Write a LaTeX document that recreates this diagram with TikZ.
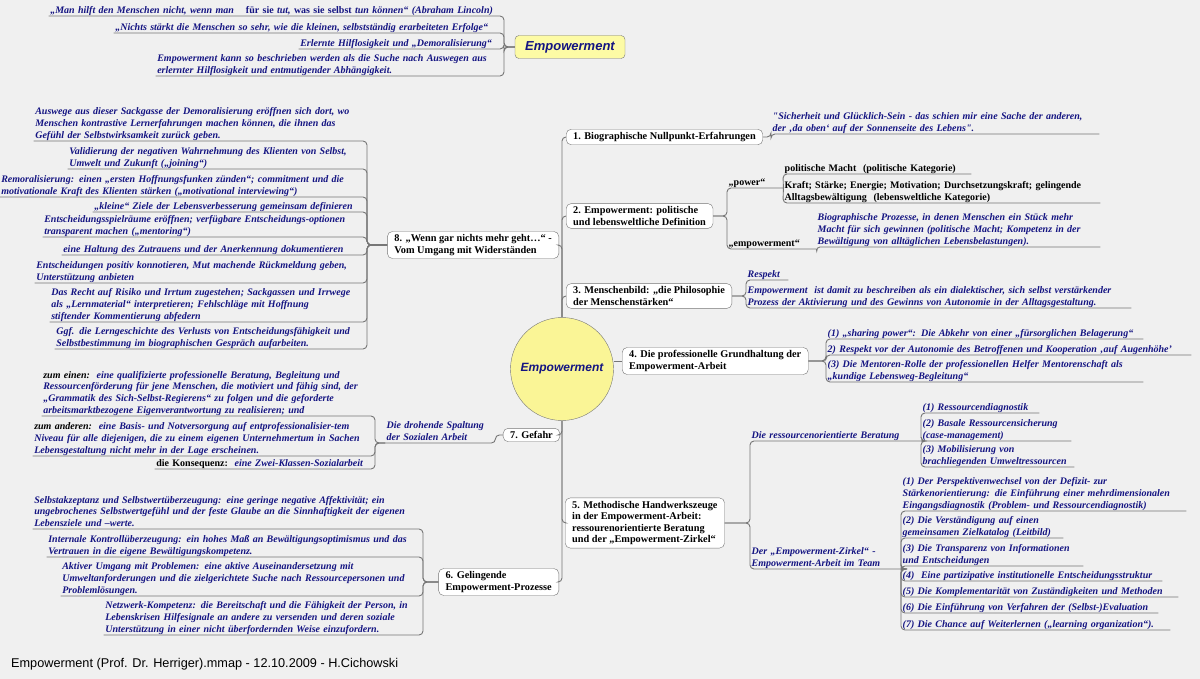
\documentclass[tikz,border=0pt]{standalone}
\usepackage{fontspec}
\setmainfont{Liberation Serif}[Ligatures=TeXOff]
\setsansfont{Liberation Sans}
\usepackage{tikz}
\usetikzlibrary{positioning}
\definecolor{mapnavy}{RGB}{20,20,130}
\definecolor{mapgray}{RGB}{118,118,118}
\definecolor{mapback}{RGB}{240,240,240}
\definecolor{hubyellow}{RGB}{250,245,150}
\definecolor{titleyellow}{RGB}{253,251,165}
\newcommand{\nohyph}{\hyphenpenalty=10000\relax\exhyphenpenalty=10000\relax}

\tikzset{
  topic/.style={draw=mapgray, fill=white, rounded corners=5pt, align=left, inner xsep=7pt, inner ysep=3pt, font=\bfseries\fontsize{10.3}{11.6}\selectfont},
  leaf/.style={align=left, inner xsep=1.5pt, inner ysep=0.5pt, text=mapnavy, font=\bfseries\itshape\fontsize{10}{11.6}\selectfont\nohyph, execute at end node={\rule[-2pt]{0pt}{2pt}}},
  plainleaf/.style={leaf, text=black, font=\bfseries\fontsize{10}{11.6}\selectfont\nohyph},
  branch/.style={draw=mapgray, line width=0.9pt, rounded corners=4pt},
}

\begin{document}
\begin{tikzpicture}[x=1pt, y=-1pt]
\useasboundingbox (0,0) rectangle (1200,679);
\fill[mapback] (0,0) rectangle (1200,679);

% central topic and floating topic
\node[circle, draw=mapgray, fill=hubyellow, minimum size=103pt, inner sep=0pt, text=mapnavy, font=\sffamily\bfseries\itshape\fontsize{12}{14}\selectfont] (hub) at (562,369) {Empowerment};
\node[draw=mapgray, fill=titleyellow, rounded corners=4pt, minimum width=110pt, minimum height=23pt, text=mapnavy, font=\sffamily\bfseries\itshape\fontsize{13}{15}\selectfont] (title) at (570,47) {Empowerment};

% main topics
\node[topic, anchor=west] (t1) at (566,137) {1. Biographische Nullpunkt-Erfahrungen};
\node[topic, anchor=west] (t2) at (566,216) {2. Empowerment: politische\\und lebensweltliche Definition};
\node[topic, anchor=west] (t3) at (566,296) {3. Menschenbild: „die Philosophie\\der Menschenstärken“};
\node[topic, anchor=west] (t4) at (622,361) {4. Die professionelle Grundhaltung der\\Empowerment-Arbeit};
\node[topic, anchor=west] (t5) at (565,523) {5. Methodische Handwerkszeuge\\in der Empowerment-Arbeit:\\ressourenorientierte Beratung\\und der „Empowerment-Zirkel“};
\node[topic, anchor=east] (t6) at (559,582) {6. Gelingende\\Empowerment-Prozesse};
\node[topic, anchor=east] (t7) at (560,435) {7. Gefahr};
\node[topic, anchor=east] (t8) at (559,245) {8. „Wenn gar nichts mehr geht…“ -\\Vom Umgang mit Widerständen};

% floating topic notes
\node[leaf, anchor=south east, text width=452pt] (c1) at (504,16) {„Man hilft den Menschen nicht, wenn man\hspace{1.2em}{\upshape für sie} tut, {\upshape was sie selbst} tun können“ (Abraham Lincoln)};
\node[leaf, anchor=south east, text width=387pt] (c2) at (504,33) {„Nichts stärkt die Menschen so sehr, wie die kleinen, selbstständig erarbeiteten Erfolge“};
\node[leaf, anchor=south east, text width=202pt] (c3) at (504,49) {Erlernte Hilflosigkeit und „Demoralisierung“};
\node[leaf, anchor=south east, text width=345pt] (c4) at (504,76) {Empowerment kann so beschrieben werden als die Suche nach Auswegen aus\\erlernter Hilflosigkeit und entmutigender Abhängigkeit.};

% 1.
\node[leaf, anchor=south west, text width=325pt] (q1) at (771,134) {"Sicherheit und Glücklich-Sein - das schien mir eine Sache der anderen,\\der ‚da oben‘ auf der Sonnenseite des Lebens".};

% 2.
\node[plainleaf, anchor=south west, text width=53pt] (p1) at (727,188) {„power“};
\node[plainleaf, anchor=south west, text width=86pt] (p2) at (727,249) {„empowerment“};
\node[plainleaf, anchor=south west, text width=185pt] (m1) at (783,174) {politische Macht\ \ (politische Kategorie)};
\node[plainleaf, anchor=south west, text width=314pt] (m2) at (783,203) {Kraft; Stärke; Energie; Motivation; Durchsetzungskraft; gelingende\\Alltagsbewältigung\ \ (lebensweltliche Kategorie)};
\node[leaf, anchor=south west, text width=281pt] (e1) at (816,247) {Biographische Prozesse, in denen Menschen ein Stück mehr\\Macht für sich gewinnen (politische Macht; Kompetenz in der\\Bewältigung von alltäglichen Lebensbelastungen).};

% 3.
\node[leaf, anchor=south west, text width=39pt] (r1) at (746,280) {Respekt};
\node[leaf, anchor=south west, text width=382pt] (r2) at (746,308) {Empowerment\ \ ist damit zu beschreiben als ein dialektischer, sich selbst verstärkender\\Prozess der Aktivierung und des Gewinns von Autonomie in der Alltagsgestaltung.};

% 4.
\node[leaf, anchor=south west, text width=314pt] (s1) at (826,339) {(1) „sharing power“: Die Abkehr von einer „fürsorglichen Belagerung“};
\node[leaf, anchor=south west, text width=362pt] (s2) at (826,355) {2) Respekt vor der Autonomie des Betroffenen und Kooperation ‚auf Augenhöhe’};
\node[leaf, anchor=south west, text width=314pt] (s3) at (826,382) {(3) Die Mentoren-Rolle der professionellen Helfer Mentorenschaft als\\„kundige Lebensweg-Begleitung“};

% 5.
\node[leaf, anchor=south west, text width=168pt] (d1) at (750,441) {Die ressourcenorientierte Beratung};
\node[leaf, anchor=south west, text width=115pt] (f1) at (921,413) {(1) Ressourcendiagnostik};
\node[leaf, anchor=south west, text width=147pt] (f2) at (921,441) {(2) Basale Ressourcensicherung\\(case-management)};
\node[leaf, anchor=south west, text width=150pt] (f3) at (921,467) {(3) Mobilisierung von\\brachliegenden Umweltressourcen};
\node[leaf, anchor=south west, text width=148pt] (d2) at (750,569) {Der „Empowerment-Zirkel“ -\\Empowerment-Arbeit im Team};
\node[leaf, anchor=south west, text width=282pt] (g1) at (901,511) {(1) Der Perspektivenwechsel von der Defizit- zur\\Stärkenorientierung: die Einführung einer mehrdimensionalen\\Eingangsdiagnostik (Problem- und Ressourcendiagnostik)};
\node[leaf, anchor=south west, text width=159pt] (g2) at (901,538) {(2) Die Verständigung auf einen\\gemeinsamen Zielkatalog (Leitbild)};
\node[leaf, anchor=south west, text width=179pt] (g3) at (901,566) {(3) Die Transparenz von Informationen\\und Entscheidungen};
\node[leaf, anchor=south west, text width=258pt] (g4) at (901,581) {(4)\ \ Eine partizipative institutionelle Entscheidungsstruktur};
\node[leaf, anchor=south west, text width=274pt] (g5) at (901,597) {(5) Die Komplementarität von Zuständigkeiten und Methoden};
\node[leaf, anchor=south west, text width=254pt] (g6) at (901,613) {(6) Die Einführung von Verfahren der (Selbst-)Evaluation};
\node[leaf, anchor=south west, text width=266pt] (g7) at (901,630) {(7) Die Chance auf Weiterlernen („learning organization“).};

% 6.
\node[leaf, anchor=south east, text width=387pt] (b1) at (423,529) {Selbstakzeptanz und Selbstwertüberzeugung: eine geringe negative Affektivität; ein\\ungebrochenes Selbstwertgefühl und der feste Glaube an die Sinnhaftigkeit der eigenen\\Lebensziele und –werte.};
\node[leaf, anchor=south east, text width=373pt] (b2) at (423,557) {Internale Kontrollüberzeugung: ein hohes Maß an Bewältigungsoptimismus und das\\Vertrauen in die eigene Bewältigungskompetenz.};
\node[leaf, anchor=south east, text width=359pt] (b3) at (423,596) {Aktiver Umgang mit Problemen: eine aktive Auseinandersetzung mit\\Umweltanforderungen und die zielgerichtete Suche nach Ressourcepersonen und\\Problemlösungen.};
\node[leaf, anchor=south east, text width=316pt] (b4) at (423,635) {Netzwerk-Kompetenz: die Bereitschaft und die Fähigkeit der Person, in\\Lebenskrisen Hilfesignale an andere zu versenden und deren soziale\\Unterstützung in einer nicht überfordernden Weise einzufordern.};

% 7.
\node[leaf, anchor=south west, text width=107pt] (dd) at (385,443) {Die drohende Spaltung\\der Sozialen Arbeit};
\node[leaf, anchor=south east, text width=330pt] (z1) at (375,416) {{\color{black}zum einen:}\ \ eine qualifizierte professionelle Beratung, Begleitung und\\Ressourcenförderung für jene Menschen, die motiviert und fähig sind, der\\„Grammatik des Sich-Selbst-Regierens“ zu folgen und die geforderte\\arbeitsmarktbezogene Eigenverantwortung zu realisieren; und};
\node[leaf, anchor=south east, text width=339pt] (z2) at (375,456) {{\color{black}zum anderen:}\ \ eine Basis- und Notversorgung auf entprofessionalisier-tem\\Niveau für alle diejenigen, die zu einem eigenen Unternehmertum in Sachen\\Lebensgestaltung nicht mehr in der Lage erscheinen.};
\node[leaf, anchor=south east, text width=217pt] (z3) at (375,469) {{\color{black}\upshape die Konsequenz:}\ \ eine Zwei-Klassen-Sozialarbeit};

% 8.
\node[leaf, anchor=south east, text width=330pt] (a1) at (367,141) {Auswege aus dieser Sackgasse der Demoralisierung eröffnen sich dort, wo\\Menschen kontrastive Lernerfahrungen machen können, die ihnen das\\Gefühl der Selbstwirksamkeit zurück geben.};
\node[leaf, anchor=south east, text width=296pt] (a2) at (367,169) {Validierung der negativen Wahrnehmung des Klienten von Selbst,\\Umwelt und Zukunft („joining“)};
\node[leaf, anchor=south east, text width=364pt] (a3) at (367,197) {Remoralisierung: einen „ersten Hoffnungsfunken zünden“; commitment und die\\motivationale Kraft des Klienten stärken („motivational interviewing“)};
\node[leaf, anchor=south east, text width=271pt] (a4) at (367,212) {„kleine“ Ziele der Lebensverbesserung gemeinsam definieren};
\node[leaf, anchor=south east, text width=321pt] (a5) at (367,237) {Entscheidungsspielräume eröffnen; verfügbare Entscheidungs-optionen\\transparent machen („mentoring“)};
\node[leaf, anchor=south east, text width=302pt] (a6) at (367,255) {eine Haltung des Zutrauens und der Anerkennung dokumentieren};
\node[leaf, anchor=south east, text width=329pt] (a7) at (367,283) {Entscheidungen positiv konnotieren, Mut machende Rückmeldung geben,\\Unterstützung anbieten};
\node[leaf, anchor=south east, text width=314pt] (a8) at (367,322) {Das Recht auf Risiko und Irrtum zugestehen; Sackgassen und Irrwege\\als „Lernmaterial“ interpretieren; Fehlschläge mit Hoffnung\\stiftender Kommentierung abfedern};
\node[leaf, anchor=south east, text width=309pt] (a9) at (367,349) {Ggf. die Lerngeschichte des Verlusts von Entscheidungsfähigkeit und\\Selbstbestimmung im biographischen Gespräch aufarbeiten.};

% footer
\node[anchor=base west, inner sep=0pt, font=\sffamily\fontsize{12.7}{14}\selectfont] (footer) at (11,667) {Empowerment (Prof. Dr. Herriger).mmap - 12.10.2009 - H.Cichowski};

% connectors
\foreach \t in {t1,t2,t3} \draw[branch] (hub.north) |- (\t.west);
\draw[branch] (hub.north) |- (t8.east);
\draw[branch] (hub.east |- t4.west) -- (t4.west);
\draw[branch] (hub.south) |- (t7.east);
\draw[branch] (hub.south) |- (t5.west);
\draw[branch] (hub.south) |- (t6.east);

\foreach \n in {c1,c2,c3,c4} \draw[branch] (title.west) -- (title.west -| \n.south east) -- (\n.south east) -- (\n.south west);
\draw[branch] (t1.east) -- (t1.east -| q1.south west) -- (q1.south west) -- (q1.south east);
\foreach \n in {p1,p2} \draw[branch] (t2.east) -- (t2.east -| \n.south west) -- (\n.south west) -- (\n.south east);
\foreach \n in {m1,m2} \draw[branch] (p1.south east) -- (\n.south west) -- (\n.south east);
\draw[branch] (p2.south east) -- (e1.south west) -- (e1.south east);
\foreach \n in {r1,r2} \draw[branch] (t3.east) -- (t3.east -| \n.south west) -- (\n.south west) -- (\n.south east);
\foreach \n in {s1,s2,s3} \draw[branch] (t4.east) -- (t4.east -| \n.south west) -- (\n.south west) -- (\n.south east);
\foreach \n in {d1,d2} \draw[branch] (t5.east) -- (t5.east -| \n.south west) -- (\n.south west) -- (\n.south east);
\foreach \n in {f1,f2,f3} \draw[branch] (d1.south east) -- (d1.south east -| \n.south west) -- (\n.south west) -- (\n.south east);
\foreach \n in {g1,g2,g3,g4,g5,g6,g7} \draw[branch] (d2.south east) -- (d2.south east -| \n.south west) -- (\n.south west) -- (\n.south east);
\foreach \n in {b1,b2,b3,b4} \draw[branch] (t6.west) -- (t6.west -| \n.south east) -- (\n.south east) -- (\n.south west);
\draw[branch] (t7.west) -- (t7.west -| dd.south east) -- (dd.south east) -- (dd.south west);
\foreach \n in {z1,z2,z3} \draw[branch] (dd.south west) -- (dd.south west -| \n.south east) -- (\n.south east) -- (\n.south west);
\foreach \n in {a1,a2,a3,a4,a5,a6,a7,a8,a9} \draw[branch] (t8.west) -- (t8.west -| \n.south east) -- (\n.south east) -- (\n.south west);
\end{tikzpicture}
\end{document}
